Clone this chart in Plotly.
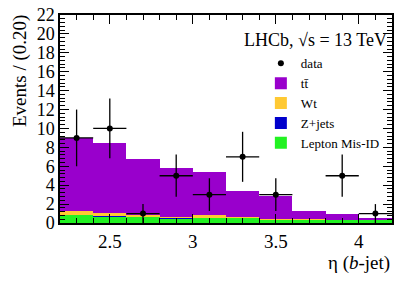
import numpy as np
import plotly.graph_objects as go

# bin centres (eta of b-jet), width 0.2
bin_centres = [2.3, 2.5, 2.7, 2.9, 3.1, 3.3, 3.5, 3.7, 3.9, 4.1]
data_counts = [9, 10, 1, 5, 3, 7, 3, 0, 5, 1]
ttbar = [7.78, 7.43, 5.92, 5.17, 4.60, 2.71, 2.43, 0.85, 0.53, 0.18]
wt = [0.36, 0.30, 0.16, 0.15, 0.17, 0.10, 0.05, 0.03, 0.02, 0.01]
zjets = [0.01, 0.01, 0.01, 0.01, 0.01, 0.01, 0.01, 0.01, 0.01, 0.01]
misid = [0.85, 0.73, 0.66, 0.52, 0.62, 0.55, 0.36, 0.34, 0.34, 0.34]
x_ticks = [2.5, 3, 3.5, 4]
x_tick_labels = ["2.5", "3", "3.5", "4"]
y_ticks = list(range(0, 23, 2))

FONT = "Liberation Serif"
BW = 0.2

fig = go.Figure()
for name, vals, col, rank in [
    ("Lepton Mis-ID", misid, "#22f222", 5),
    ("Z+jets", zjets, "#0000cc", 4),
    ("Wt", wt, "#ffc933", 3),
    ("t\u0074\u0304", ttbar, "#9900cc", 2),
]:
    fig.add_trace(go.Bar(x=bin_centres, y=vals, width=BW, name=name,
                         marker=dict(color=col, line=dict(width=0)),
                         legendrank=rank))

dx = [c for c, n in zip(bin_centres, data_counts) if n > 0]
dy = [n for n in data_counts if n > 0]
fig.add_trace(go.Scatter(
    x=dx, y=dy, mode="markers", name="data", legendrank=1,
    marker=dict(color="black", size=6),
    error_y=dict(type="data", array=list(np.sqrt(dy)), color="black", thickness=1.3, width=0),
    error_x=dict(type="constant", value=BW / 2, color="black", thickness=1.3, width=0),
))

axis_common = dict(showline=True, linecolor="black", linewidth=1.5, mirror="allticks",
                   ticks="inside", tickcolor="black", tickwidth=1, showgrid=False,
                   zeroline=False, layer="above traces")
fig.update_xaxes(range=[2.2, 4.2], tickvals=x_ticks, ticktext=x_tick_labels, ticklen=9,
                 tickfont=dict(family=FONT, size=19, color="black"),
                 minor=dict(dtick=0.1, tick0=2.2, ticklen=5, ticks="inside", tickcolor="black", showgrid=False),
                 **axis_common)
fig.update_yaxes(range=[0, 22], tickvals=y_ticks, ticklen=9,
                 tickfont=dict(family=FONT, size=18, color="black"),
                 minor=dict(dtick=0.4, tick0=0, ticklen=5, ticks="inside", tickcolor="black", showgrid=False),
                 **axis_common)

fig.update_layout(
    width=415, height=281, barmode="stack", bargap=0,
    margin=dict(l=60, r=23, t=15, b=58, autoexpand=False),
    paper_bgcolor="white", plot_bgcolor="white",
    font=dict(family=FONT, color="black"),
    showlegend=True,
    legend=dict(x=0.605, y=0.84, xanchor="left", yanchor="top", traceorder="normal",
                font=dict(family=FONT, size=13, color="black"), bgcolor="rgba(0,0,0,0)",
                itemwidth=30, tracegroupgap=0),
    annotations=[
        dict(text="Events / (0.20)", xref="paper", yref="paper", x=-0.12, y=1.01,
             xanchor="center", yanchor="top", textangle=-90, showarrow=False,
             font=dict(family=FONT, size=19)),
        dict(text="\u03b7 (<i>b</i>-jet)", xref="paper", yref="paper", x=1.0, y=-0.19,
             xanchor="right", yanchor="middle", showarrow=False,
             font=dict(family=FONT, size=19)),
        dict(text="LHCb, \u221as = 13 TeV", xref="paper", yref="paper", x=0.99, y=0.88,
             xanchor="right", yanchor="middle", showarrow=False,
             font=dict(family=FONT, size=18)),
    ],
)

fig.write_html("out.html", config={"displayModeBar": False},
               post_script="document.body.style.margin='0px';")
